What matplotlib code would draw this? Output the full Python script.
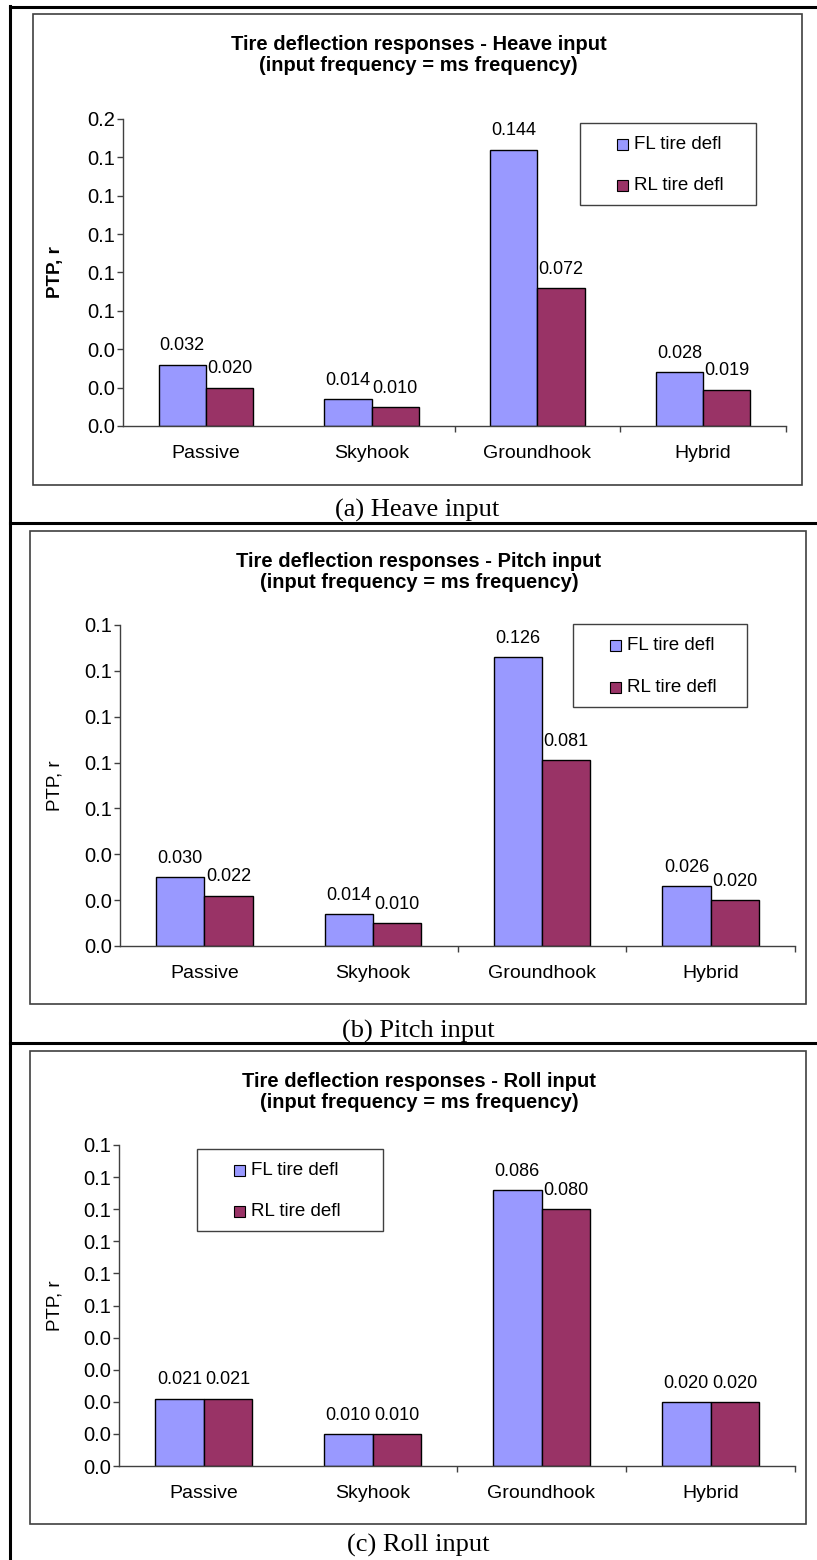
"""Tire deflection responses under heave, pitch and roll input, three stacked bar charts."""

import math

import matplotlib
matplotlib.use("Agg")
import matplotlib.pyplot as plt
import numpy as np
from matplotlib.lines import Line2D
from matplotlib.patches import Rectangle
from matplotlib.ticker import FixedLocator, FuncFormatter

W, H = 817, 1560

categories = ["Passive", "Skyhook", "Groundhook", "Hybrid"]
series_names = ["FL tire defl", "RL tire defl"]
series_colors = ["#9999FF", "#993366"]

heave_fl = [0.032, 0.014, 0.144, 0.028]
heave_rl = [0.020, 0.010, 0.072, 0.019]
pitch_fl = [0.030, 0.014, 0.126, 0.026]
pitch_rl = [0.022, 0.010, 0.081, 0.020]
roll_fl = [0.021, 0.010, 0.086, 0.020]
roll_rl = [0.021, 0.010, 0.080, 0.020]

heave_ticks = [0.00, 0.02, 0.04, 0.06, 0.08, 0.10, 0.12, 0.14, 0.16]
pitch_ticks = [0.00, 0.02, 0.04, 0.06, 0.08, 0.10, 0.12, 0.14]
roll_ticks = [0.00, 0.01, 0.02, 0.03, 0.04, 0.05, 0.06, 0.07, 0.08, 0.09, 0.10]

titles = [
    "Tire deflection responses - Heave input\n(input frequency = ms frequency)",
    "Tire deflection responses - Pitch input\n(input frequency = ms frequency)",
    "Tire deflection responses - Roll input\n(input frequency = ms frequency)",
]
captions = ["(a) Heave input", "(b) Pitch input", "(c) Roll input"]

SANS = "Liberation Sans"
SERIF = "Liberation Serif"
AXIS_GRAY = "#404040"


def fx(px):
    return px / W


def fy(py):
    return 1 - py / H


def one_decimal(v, _pos=None):
    # Excel-style rounding half up to one decimal
    return f"{math.floor(v * 10 + 0.5 + 1e-9) / 10:.1f}"


def draw_legend(fig, box):
    x0, y0, x1, y1 = box
    fig.add_artist(Rectangle((fx(x0), fy(y1)), fx(x1 - x0), (y1 - y0) / H,
                             transform=fig.transFigure, fill=False,
                             edgecolor=AXIS_GRAY, linewidth=1.0))
    row_h = (y1 - y0) / 2
    for i, (name, color) in enumerate(zip(series_names, series_colors)):
        cy = y0 + row_h * (i + 0.5) + 1
        mx = x0 + 37
        fig.add_artist(Rectangle((fx(mx), fy(cy + 5.5)), fx(11), 11 / H,
                                 transform=fig.transFigure, facecolor=color,
                                 edgecolor="black", linewidth=0.8))
        fig.text(fx(mx + 17), fy(cy), name, fontsize=13.5, family=SANS,
                 ha="left", va="center")


def draw_panel(fig, fl, rl, ticks, title, caption, box, axes_px, legend_box,
               caption_y, bold_label):
    bx0, by0, bx1, by1 = box
    fig.add_artist(Rectangle((fx(bx0), fy(by1)), fx(bx1 - bx0), (by1 - by0) / H,
                             transform=fig.transFigure, fill=False,
                             edgecolor=AXIS_GRAY, linewidth=1.2))

    left, top, right, bottom = axes_px
    ax = fig.add_axes([fx(left), fy(bottom), fx(right - left), (bottom - top) / H])

    x = np.arange(len(categories))
    w = 1 / 3.5
    for vals, off, color in ((fl, -w / 2, series_colors[0]), (rl, w / 2, series_colors[1])):
        ax.bar(x + off, vals, w, color=color, edgecolor="black", linewidth=1.0)
        for xi, v in zip(x, vals):
            ax.annotate(f"{v:.3f}", (xi + off, v), xytext=(0, 13.5),
                        textcoords="offset points", ha="center", va="center",
                        fontsize=13, family=SANS)

    ax.set_xlim(-0.5, len(categories) - 0.5)
    ax.set_ylim(ticks[0], ticks[-1])
    ax.yaxis.set_major_locator(FixedLocator(ticks))
    ax.yaxis.set_major_formatter(FuncFormatter(one_decimal))

    ax.xaxis.set_major_locator(FixedLocator(x[:-1] + 1.5))
    ax.xaxis.set_major_formatter(FuncFormatter(lambda v, p: ""))
    ax.xaxis.set_minor_locator(FixedLocator(x))
    ax.set_xticklabels(categories, minor=True)

    for side in ("top", "right"):
        ax.spines[side].set_visible(False)
    for side in ("left", "bottom"):
        ax.spines[side].set_color(AXIS_GRAY)
        ax.spines[side].set_linewidth(1.0)
    ax.tick_params(axis="y", direction="out", length=4, width=1.0,
                   color=AXIS_GRAY, pad=2, labelsize=14.5)
    ax.tick_params(axis="x", which="major", direction="out", length=4,
                   width=1.0, color=AXIS_GRAY)
    ax.tick_params(axis="x", which="minor", length=0, pad=14, labelsize=14)
    for lbl in ax.get_yticklabels() + ax.get_xticklabels(minor=True):
        lbl.set_family(SANS)

    ax.set_ylabel("PTP, r", family=SANS, fontsize=13.5,
                  fontweight="bold" if bold_label else "normal")
    ax.yaxis.set_label_coords((64 - left) / (right - left), 0.5)

    cx = (bx0 + bx1) / 2
    fig.text(fx(cx + 1), fy(by0 + 41), title, ha="center", va="center",
             fontsize=14.5, fontweight="bold", family=SANS, linespacing=1.15)

    draw_legend(fig, legend_box)

    fig.text(fx(cx), fy(caption_y), caption, ha="center", va="center",
             fontsize=19, family=SERIF)


fig = plt.figure(figsize=(W / 100, H / 100), dpi=100)
fig.patch.set_facecolor("white")

# table rules framing the three panels
for y in (7, 523, 1043):
    fig.add_artist(Line2D([fx(10), 1], [fy(y), fy(y)], transform=fig.transFigure,
                          color="black", linewidth=2.2))
fig.add_artist(Line2D([fx(10), fx(10)], [fy(6), 0], transform=fig.transFigure,
                      color="black", linewidth=2.2))

draw_panel(fig, heave_fl, heave_rl, heave_ticks, titles[0], captions[0],
           (33, 14, 802, 485), (123, 119, 786, 426), (580, 123, 756, 205),
           510, True)
draw_panel(fig, pitch_fl, pitch_rl, pitch_ticks, titles[1], captions[1],
           (30, 531, 806, 1004), (120, 625, 795, 946), (573, 624, 747, 707),
           1031, False)
draw_panel(fig, roll_fl, roll_rl, roll_ticks, titles[2], captions[2],
           (30, 1051, 806, 1524), (119, 1145, 795, 1466), (197, 1149, 383, 1231),
           1545, False)

fig.savefig("out.png", dpi=100)
